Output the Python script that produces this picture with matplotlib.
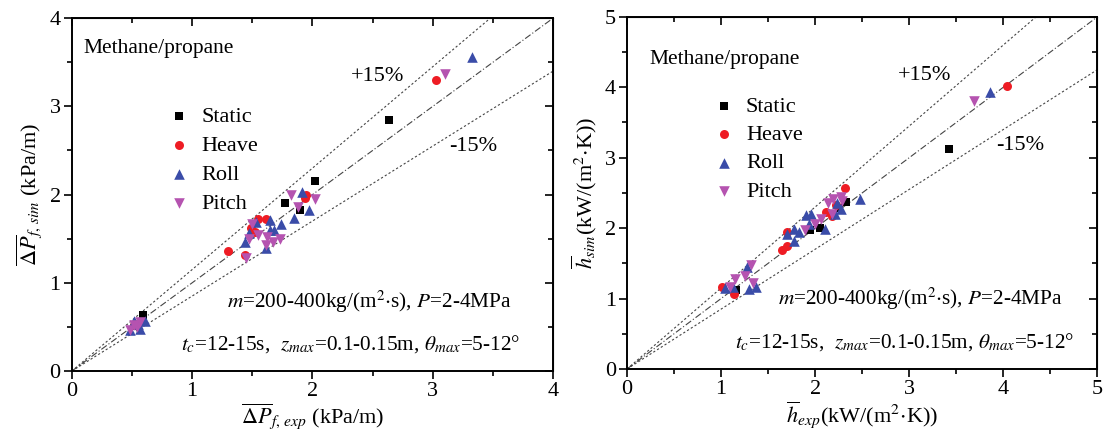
import numpy as np
import matplotlib.pyplot as plt

plt.rcParams['font.family'] = 'serif'
plt.rcParams['font.serif'] = ['Liberation Serif', 'DejaVu Serif']
plt.rcParams['mathtext.fontset'] = 'stix'

# pressure gradient, kPa/m (exp, sim)
dp_static_exp = [0.59, 0.55, 1.77, 1.90, 2.02, 2.64]
dp_static_sim = [0.63, 0.52, 1.90, 1.82, 2.15, 2.84]
dp_heave_exp = [0.52, 0.57, 1.30, 1.44, 1.49, 1.52, 1.55, 1.61, 1.94, 1.95, 3.03]
dp_heave_sim = [0.52, 0.56, 1.36, 1.31, 1.62, 1.58, 1.72, 1.72, 1.96, 2.00, 3.30]
dp_roll_exp = [0.48, 0.52, 0.57, 0.61, 0.55, 1.44, 1.47, 1.53, 1.61, 1.65, 1.65,
               1.68, 1.74, 1.85, 1.91, 1.97, 3.33]
dp_roll_sim = [0.46, 0.57, 0.48, 0.57, 0.53, 1.46, 1.56, 1.69, 1.39, 1.71, 1.60,
               1.60, 1.67, 1.73, 2.03, 1.82, 3.56]
dp_pitch_exp = [0.48, 0.52, 0.57, 0.54, 1.45, 1.47, 1.50, 1.55, 1.61, 1.62, 1.67,
                1.73, 1.82, 1.88, 2.02, 3.10]
dp_pitch_sim = [0.46, 0.52, 0.56, 0.50, 1.28, 1.50, 1.67, 1.54, 1.43, 1.52, 1.46,
                1.50, 2.00, 1.86, 1.95, 3.37]

# heat transfer coefficient, kW/(m2.K) (exp, sim)
h_static_exp = [1.16, 1.94, 2.05, 2.25, 2.33, 3.42]
h_static_sim = [1.12, 1.97, 2.00, 2.28, 2.37, 3.13]
h_heave_exp = [1.01, 1.14, 1.65, 1.70, 1.70, 2.12, 2.18, 2.22, 2.32, 4.04]
h_heave_sim = [1.17, 1.06, 1.69, 1.74, 1.94, 2.23, 2.17, 2.33, 2.57, 4.02]
h_roll_exp = [1.04, 1.13, 1.28, 1.30, 1.37, 1.70, 1.77, 1.77, 1.83, 1.90, 1.93,
              1.96, 2.10, 2.21, 2.23, 2.27, 2.48, 3.86]
h_roll_sim = [1.15, 1.17, 1.45, 1.14, 1.16, 1.92, 1.99, 1.82, 1.94, 2.19, 2.06,
              2.20, 1.99, 2.20, 2.35, 2.27, 2.42, 3.93]
h_pitch_exp = [1.09, 1.15, 1.25, 1.32, 1.34, 1.89, 2.00, 2.06, 2.14, 2.18, 2.19,
               2.27, 2.29, 3.69]
h_pitch_sim = [1.17, 1.27, 1.32, 1.47, 1.22, 1.97, 2.06, 2.13, 2.35, 2.20, 2.42,
               2.44, 2.39, 3.81]

series_names = ['Static', 'Heave', 'Roll', 'Pitch']
colors = ['black', '#ee1c24', '#3a4ca8', '#b553b0']
markers = ['s', 'o', '^', 'v']
sizes = [34, 42, 58, 58]

fig = plt.figure(figsize=(11.04, 4.32), dpi=100)
ax1 = fig.add_axes([0.065, 0.141, 0.436, 0.817])
ax2 = fig.add_axes([0.568, 0.146, 0.426, 0.815])


def setup_axes(ax, lim):
    x = np.array([0, lim])
    ax.plot(x, x, color='#444444', lw=0.8, ls=(0, (6, 2, 1, 2)), zorder=1)
    ax.plot(x, 1.15 * x, color='#444444', lw=0.8, ls=(0, (2, 2)), zorder=1)
    ax.plot(x, 0.85 * x, color='#444444', lw=0.8, ls=(0, (2, 2)), zorder=1)
    ax.set_xlim(0, lim)
    ax.set_ylim(0, lim)
    ax.set_xticks(range(lim + 1))
    ax.set_yticks(range(lim + 1))
    ax.set_xticks(np.arange(0.5, lim, 1), minor=True)
    ax.set_yticks(np.arange(0.5, lim, 1), minor=True)
    ax.tick_params(which='major', direction='out', length=6, width=1.2, labelsize=16,
                   pad=2)
    ax.tick_params(which='minor', direction='out', length=3.5, width=1.2)
    for s in ax.spines.values():
        s.set_linewidth(1.4)
    # mirrored inward ticks on top/right
    top = ax.secondary_xaxis('top')
    right = ax.secondary_yaxis('right')
    for sec in (top, right):
        sec.set_ticks(range(lim + 1))
        sec.set_ticks(np.arange(0.5, lim, 1), minor=True)
        sec.tick_params(which='major', direction='in', length=6, width=1.2,
                        labeltop=False, labelright=False)
        sec.tick_params(which='minor', direction='in', length=3.5, width=1.2)


setup_axes(ax1, 4)
setup_axes(ax2, 5)

dp_data = [(dp_static_exp, dp_static_sim), (dp_heave_exp, dp_heave_sim),
           (dp_roll_exp, dp_roll_sim), (dp_pitch_exp, dp_pitch_sim)]
h_data = [(h_static_exp, h_static_sim), (h_heave_exp, h_heave_sim),
          (h_roll_exp, h_roll_sim), (h_pitch_exp, h_pitch_sim)]

for ax, data in ((ax1, dp_data), (ax2, h_data)):
    for (xe, ys), name, c, m, s in zip(data, series_names, colors, markers, sizes):
        ax.scatter(xe, ys, s=s, c=c, marker=m, label=name, lw=0, zorder=3)

fs = 16
afs = 15.3
ax1.legend(loc='upper left', bbox_to_anchor=(0.182, 0.776), frameon=False, fontsize=fs,
           handlelength=1.0, handletextpad=0.5, labelspacing=0.38, borderaxespad=0,
           scatterpoints=1)
ax2.legend(loc='upper left', bbox_to_anchor=(0.163, 0.80), frameon=False, fontsize=fs,
           handlelength=1.0, handletextpad=0.5, labelspacing=0.35, borderaxespad=0,
           scatterpoints=1)

ax1.text(0.10, 3.66, 'Methane/propane', fontsize=15.5, va='center')
ax1.text(2.32, 3.34, '+15%', fontsize=fs, va='center')
ax1.text(3.14, 2.54, '-15%', fontsize=fs, va='center')
ax1.text(1.29, 0.78, r'$m$=200-400kg/(m$^2$$\cdot$s), $P$=2-4MPa', fontsize=afs, va='center')
ax1.text(0.91, 0.31, r'$t_c$=12-15s,  $z_{max}$=0.1-0.15m, $\theta_{max}$=5-12°',
         fontsize=afs, va='center')

ax2.text(0.24, 4.40, 'Methane/propane', fontsize=15.5, va='center')
ax2.text(2.88, 4.16, '+15%', fontsize=fs, va='center')
ax2.text(3.92, 3.18, '-15%', fontsize=fs, va='center')
ax2.text(1.60, 1.00, r'$m$=200-400kg/(m$^2$$\cdot$s), $P$=2-4MPa', fontsize=afs, va='center')
ax2.text(1.15, 0.38, r'$t_c$=12-15s,  $z_{max}$=0.1-0.15m, $\theta_{max}$=5-12°',
         fontsize=afs, va='center')

ax1.set_xlabel(r'$\overline{\Delta P}_{f,\,exp}$ (kPa/m)', fontsize=fs, labelpad=0)
ax1.set_ylabel(r'$\overline{\Delta P}_{f,\,sim}$ (kPa/m)', fontsize=fs, labelpad=4)
ax2.set_xlabel(r'$\overline{h}_{exp}$(kW/(m$^2$$\cdot$K))', fontsize=fs, labelpad=0)
ax2.set_ylabel(r'$\overline{h}_{sim}$(kW/(m$^2$$\cdot$K))', fontsize=fs, labelpad=4)

fig.savefig('out.png', dpi=100)
